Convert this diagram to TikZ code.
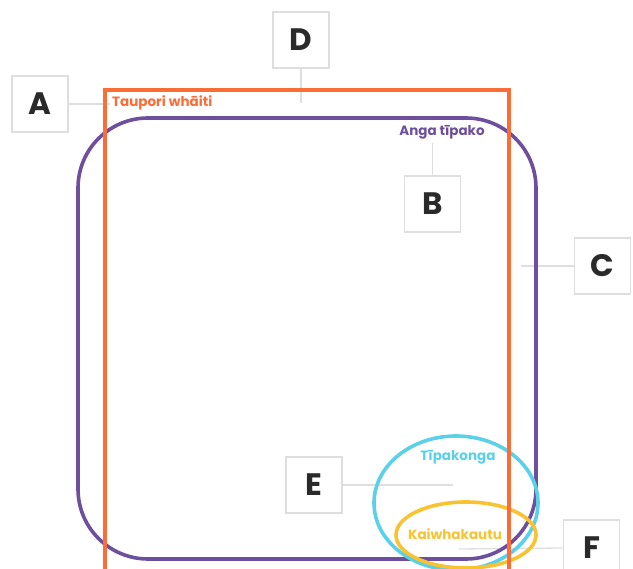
\documentclass[tikz,border=0pt]{standalone}
\usepackage{fontspec}
\setmainfont{Poppins}
\definecolor{tauporicol}{HTML}{FA6D36}
\definecolor{angacol}{HTML}{6D4F9D}
\definecolor{tipakongacol}{HTML}{5BD0E9}
\definecolor{kaiwhcol}{HTML}{F8C331}
\definecolor{boxgray}{HTML}{DEDEDE}
\definecolor{letterdark}{HTML}{2A2A2A}
\tikzset{
  letterbox/.style={draw=boxgray, line width=1.5pt, fill=white, minimum size=56pt, inner sep=0pt,
    text=letterdark, font=\fontsize{31}{31}\selectfont\bfseries},
  pointer/.style={draw=boxgray, line width=1.3pt},
  grouplabel/.style={inner sep=0pt, font=\fontsize{13.5}{15}\selectfont\bfseries},
  groupline/.style={line width=3.6pt},
}
\begin{document}
\begin{tikzpicture}[x=1pt,y=-1pt]
\clip (0,0) rectangle (633,569);
% letter boxes
\node[letterbox] (A) at (40,104) {A};
\node[letterbox] (B) at (432.5,204) {B};
\node[letterbox] (C) at (602.5,266) {C};
\node[letterbox] (D) at (301,40) {D};
\node[letterbox] (E) at (314,485) {E};
\node[letterbox] (F) at (591.5,548) {F};
% pointer ends
\coordinate (a) at (110,104);
\coordinate (b) at (432.5,143);
\coordinate (c) at (521,266);
\coordinate (d) at (301,103);
\coordinate (e) at (453,485);
\coordinate (f) at (459,549);
\draw[pointer] (A.east) -- (a);
\draw[pointer] (B.north) -- (b);
\draw[pointer] (C.west) -- (c);
\draw[pointer] (D.south) -- (d);
\draw[pointer] (E.east) -- (e);
\draw[pointer] (F.west) -- (f);
% groups
\draw[groupline, angacol, rounded corners=70pt] (78,118) rectangle (536,559);
\draw[groupline, tipakongacol] (456,503) ellipse [x radius=82, y radius=67];
\draw[groupline, kaiwhcol] (466,535) ellipse [x radius=70, y radius=33];
\draw[groupline, tauporicol] (105,90) rectangle (509,590);
% group labels
\node[grouplabel, text=tauporicol, anchor=west] (taupori) at (112,103) {Taupori whāiti};
\node[grouplabel, text=angacol] (anga) at (442,132) {Anga tīpako};
\node[grouplabel, text=tipakongacol] (tipakonga) at (458,457) {Tīpakonga};
\node[grouplabel, text=kaiwhcol] (kaiwh) at (455,534) {Kaiwhakautu};
\end{tikzpicture}
\end{document}
